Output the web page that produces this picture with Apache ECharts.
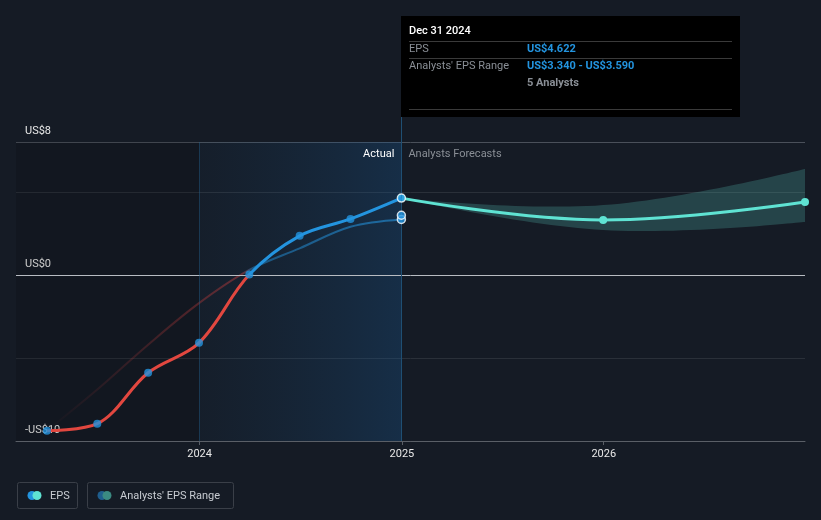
<!DOCTYPE html>
<html>
<head>
<meta charset="utf-8">
<script src="https://cdn.jsdelivr.net/npm/echarts@6/dist/echarts.min.js"></script>
<style>
  html, body { margin: 0; padding: 0; background: #151b25; }
  #chart { width: 821px; height: 520px; }
</style>
</head>
<body>
<div id="chart"></div>
<script>
// reported quarterly EPS
const epsDates = ['2023-03-31', '2023-06-30', '2023-09-30', '2023-12-31', '2024-03-31', '2024-06-30', '2024-09-30', '2024-12-31'];
const epsValues = [-9.38, -8.96, -5.89, -4.09, 0.02, 2.35, 3.37, 4.622];

// past analyst estimate line (faded)
const pastEstDates = ['2023-03-31', '2023-06-30', '2023-09-30', '2023-12-31', '2024-03-31', '2024-06-30', '2024-09-30', '2024-12-31'];
const pastEstValues = [-9.38, -6.9, -4.2, -1.7, 0.3, 1.6, 2.9, 3.34];
const pastRangeEnd = [3.34, 3.59];

// forecasts
const fcDates = ['2024-12-31', '2025-12-31', '2026-12-31'];
const fcValues = [4.622, 3.31, 4.39];
const fcLow = [4.622, 2.7, 3.19];
const fcHigh = [4.622, 4.2, 6.38];

const xMin = '2023-02-03';
const xMax = '2026-12-31';
const yearTicks = ['2024-01-01', '2025-01-01', '2026-01-01'];
const yLabels = { '8': 'US$8', '0': 'US$0', '-10': '-US$10' };

const t = d => Date.parse(d);
const pair = (d, v) => d.map((x, i) => [t(x), v[i]]);
const font = 'Roboto, "Noto Sans", sans-serif';

// bezier-smoothed outline through pixel points (for the band edges)
function smoothPts(p, s) {
  const n = p.length;
  const cps = p.map((pt, i) => {
    if (i === 0 || i === n - 1) return [pt, pt];
    const prev = p[i - 1], next = p[i + 1];
    const vx = next[0] - prev[0], vy = next[1] - prev[1];
    const d0 = Math.hypot(pt[0] - prev[0], pt[1] - prev[1]);
    const d1 = Math.hypot(next[0] - pt[0], next[1] - pt[1]);
    const r0 = d0 / (d0 + d1), r1 = d1 / (d0 + d1);
    return [[pt[0] - vx * s * r0, pt[1] - vy * s * r0], [pt[0] + vx * s * r1, pt[1] + vy * s * r1]];
  });
  const out = [p[0]];
  for (let i = 0; i < n - 1; i++) {
    const a = p[i], b = cps[i][1], c = cps[i + 1][0], d = p[i + 1];
    for (let k = 1; k <= 30; k++) {
      const u = k / 30, m = 1 - u;
      out.push([
        m * m * m * a[0] + 3 * m * m * u * b[0] + 3 * m * u * u * c[0] + u * u * u * d[0],
        m * m * m * a[1] + 3 * m * m * u * b[1] + 3 * m * u * u * c[1] + u * u * u * d[1]
      ]);
    }
  }
  return out;
}

const chart = echarts.init(document.getElementById('chart'));

chart.setOption({
  backgroundColor: '#151b25',
  animation: false,
  textStyle: { fontFamily: font },
  grid: { left: 16, right: 16, top: 142, bottom: 79 },
  xAxis: {
    type: 'value',
    min: t(xMin),
    max: t(xMax),
    axisLine: { onZero: false, lineStyle: { color: '#5a5f67', width: 1 } },
    axisTick: { show: true, length: 4, lineStyle: { color: '#5a5f67' }, customValues: yearTicks.map(t) },
    axisLabel: {
      customValues: yearTicks.map(t),
      formatter: v => String(new Date(v).getUTCFullYear()),
      color: '#e8e8e8', fontSize: 11, margin: 8
    },
    splitLine: { show: false }
  },
  yAxis: {
    type: 'value',
    min: -10,
    max: 8,
    interval: 5,
    axisLine: { show: false },
    axisTick: { show: false },
    axisLabel: {
      inside: true,
      margin: 9,
      verticalAlign: 'bottom',
      padding: [0, 0, 5, 0],
      color: '#e8e8e8',
      fontSize: 11,
      formatter: v => yLabels[String(v)] || ''
    },
    splitLine: { lineStyle: { color: ['#5a5f67', '#2a3039', '#2a3039', '#2a3039', '#4a505a'], width: 1 } }
  },
  series: [
    {
      // background regions, boundary lines and zero line
      type: 'line',
      data: [],
      silent: true,
      markArea: {
        silent: true,
        data: [
          [{ xAxis: t(xMin), itemStyle: { color: 'rgba(0,0,0,0.13)' } }, { xAxis: t('2024-01-01') }],
          [{
            xAxis: t('2024-01-01'),
            itemStyle: {
              color: new echarts.graphic.LinearGradient(0, 0, 1, 0, [
                { offset: 0, color: 'rgba(25,70,110,0.08)' },
                { offset: 1, color: 'rgba(25,90,150,0.30)' }
              ])
            },
            label: { show: true, formatter: 'Actual', position: 'insideTopRight', distance: 7, color: '#ffffff', fontSize: 11 }
          }, { xAxis: t('2024-12-31') }],
          [{
            xAxis: t('2024-12-31'),
            itemStyle: { color: 'rgba(0,0,0,0)' },
            label: { show: true, formatter: 'Analysts Forecasts', position: 'insideTopLeft', distance: 7, color: '#8a8f96', fontSize: 11 }
          }, { xAxis: t(xMax) }]
        ]
      },
      markLine: {
        silent: true,
        symbol: 'none',
        label: { show: false },
        data: [
          { yAxis: 0, lineStyle: { color: '#b8bcc2', width: 1, type: 'solid' } },
          { xAxis: t('2024-01-01'), lineStyle: { color: 'rgba(35,95,140,0.45)', width: 1, type: 'solid' } },
          { xAxis: t('2024-12-31'), lineStyle: { color: '#1f4f73', width: 1, type: 'solid' } }
        ]
      }
    },
    {
      // analysts' forecast range band
      type: 'custom',
      data: [[t(fcDates[0]), fcLow[0]]],
      silent: true,
      clip: true,
      renderItem: (params, api) => {
        const up = fcDates.map((d, i) => api.coord([t(d), fcHigh[i]]));
        const lo = fcDates.map((d, i) => api.coord([t(d), fcLow[i]]));
        const pts = smoothPts(up, 0.4).concat(smoothPts(lo, 0.4).reverse());
        return { type: 'polygon', shape: { points: pts }, style: { fill: 'rgba(90,200,188,0.24)' } };
      },
      z: 2
    },
    {
      // past estimate (faded)
      type: 'line',
      data: pair(pastEstDates, pastEstValues),
      smooth: 0.35,
      showSymbol: false,
      silent: true,
      lineStyle: {
        width: 2,
        color: new echarts.graphic.LinearGradient(0, 0, 1, 0, [
          { offset: 0, color: 'rgba(200,60,60,0)' },
          { offset: 0.55, color: 'rgba(200,60,60,0.45)' },
          { offset: 0.58, color: 'rgba(35,148,223,0.45)' },
          { offset: 1, color: 'rgba(35,148,223,0.6)' }
        ])
      },
      z: 3
    },
    {
      // forecast line
      type: 'line',
      data: pair(fcDates, fcValues),
      smooth: 0.4,
      symbol: 'circle',
      symbolSize: 8,
      showAllSymbol: true,
      itemStyle: { color: '#5fe3d3' },
      lineStyle: { color: '#5fe3d3', width: 3 },
      z: 4
    },
    {
      // EPS line, coloured by sign (colour set below)
      id: 'epsLine',
      type: 'line',
      data: pair(epsDates, epsValues),
      smooth: 0.35,
      showSymbol: false,
      lineStyle: { width: 3, color: '#2394df' },
      z: 5
    },
    {
      // EPS points
      type: 'scatter',
      data: pair(epsDates, epsValues).map((p, i) => i === epsValues.length - 1
        ? { value: p, itemStyle: { borderColor: '#ffffff', borderWidth: 1.5 } }
        : p),
      symbolSize: 8,
      itemStyle: { color: '#2394df' },
      z: 6
    },
    {
      // past estimate range end points
      type: 'scatter',
      data: pastRangeEnd.map(v => [t('2024-12-31'), v]),
      symbolSize: 8,
      itemStyle: { color: '#2394df', borderColor: '#ffffff', borderWidth: 1.5 },
      z: 6
    }
  ]
});

// split EPS line colour at zero, tooltip panel and legend boxes
const p0 = chart.convertToPixel({ gridIndex: 0 }, [t('2024-12-31'), 0]);
const tx = Math.round(p0[0]);
const y0 = p0[1];
const lab = (x, y, text, color, weight) => ({
  type: 'text', x, y,
  style: { text, fill: color, font: (weight || 'normal') + ' 11px ' + font, textVerticalAlign: 'middle' }
});
const sep = (y) => ({ type: 'line', shape: { x1: tx + 8, y1: y, x2: tx + 331, y2: y }, style: { stroke: '#3a3a3a', lineWidth: 1 } });

chart.setOption({
  series: [{
    id: 'epsLine',
    lineStyle: {
      color: new echarts.graphic.LinearGradient(0, y0 - 1, 0, y0 + 1, [
        { offset: 0, color: '#2394df' },
        { offset: 0.5, color: '#2394df' },
        { offset: 0.5, color: '#e2473f' },
        { offset: 1, color: '#e2473f' }
      ], true)
    }
  }],
  graphic: [
    { type: 'line', shape: { x1: tx + 0.5, y1: 117, x2: tx + 0.5, y2: 142 }, style: { stroke: '#1f4f73', lineWidth: 1 } },
    { type: 'rect', shape: { x: tx, y: 16, width: 339, height: 101 }, style: { fill: '#000000' } },
    lab(tx + 8, 31, 'Dec 31 2024', '#ffffff', '500'),
    sep(41.5),
    lab(tx + 8, 49, 'EPS', '#8a8f96'),
    lab(tx + 126, 49, 'US$4.622', '#2394df', 'bold'),
    sep(58.5),
    lab(tx + 8, 66, "Analysts' EPS Range", '#8a8f96'),
    lab(tx + 126, 66, 'US$3.340 - US$3.590', '#2394df', 'bold'),
    lab(tx + 126, 83, '5 Analysts', '#8a8f96', 'bold'),
    sep(109.5),

    { type: 'rect', shape: { x: 17.5, y: 482.5, width: 60, height: 26, r: 2 }, style: { fill: 'none', stroke: '#3a3f48', lineWidth: 1 } },
    { type: 'circle', shape: { cx: 32, cy: 495.5, r: 4.5 }, style: { fill: '#2394df' } },
    { type: 'circle', shape: { cx: 37, cy: 495.5, r: 4.5 }, style: { fill: '#5fe3d3' } },
    lab(50, 496, 'EPS', '#c8ccd2'),
    { type: 'rect', shape: { x: 87.5, y: 482.5, width: 146, height: 26, r: 2 }, style: { fill: 'none', stroke: '#3a3f48', lineWidth: 1 } },
    { type: 'circle', shape: { cx: 102, cy: 495.5, r: 4.5 }, style: { fill: '#1f5e8e' } },
    { type: 'circle', shape: { cx: 107, cy: 495.5, r: 4.5 }, style: { fill: '#3b8a82' } },
    lab(120, 496, "Analysts' EPS Range", '#c8ccd2')
  ]
});
</script>
</body>
</html>
